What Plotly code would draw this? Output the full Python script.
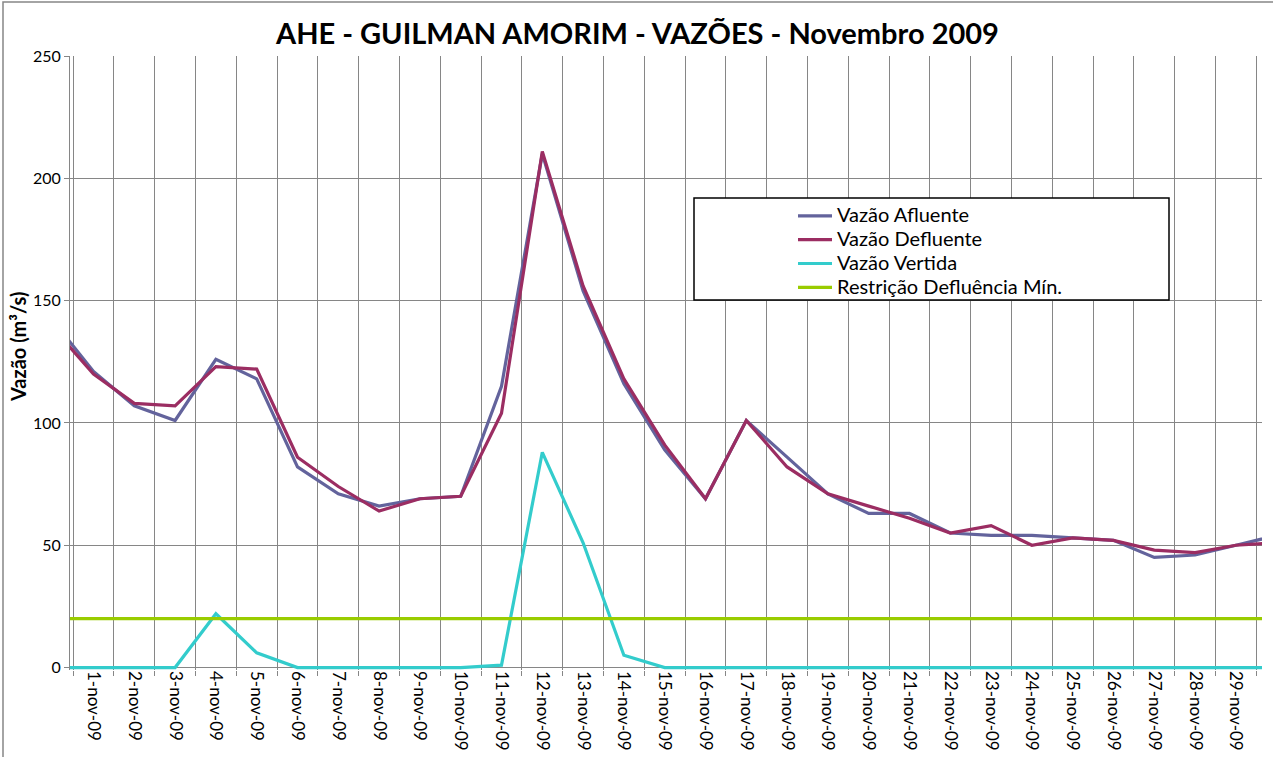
import plotly.graph_objects as go

# Categories (first and last are partially visible points at the clipped edges)
datas = ["31-out-09"] + [f"{d}-nov-09" for d in range(1, 31)]

vazao_afluente = [142, 121, 107, 101, 126, 118, 82, 71, 66, 69, 70, 115, 210, 154, 116,
                  89, 69, 101, 86, 71, 63, 63, 55, 54, 54, 53, 52, 45, 46, 50, 54]
vazao_defluente = [139, 120, 108, 107, 123, 122, 86, 74, 64, 69, 70, 104, 211, 156, 118,
                   91, 69, 101, 82, 71, 66, 61, 55, 58, 50, 53, 52, 48, 47, 50, 51]
vazao_vertida = [0, 0, 0, 0, 22, 6, 0, 0, 0, 0, 0, 1, 88, 51, 5,
                 0, 0, 0, 0, 0, 0, 0, 0, 0, 0, 0, 0, 0, 0, 0, 0]
restricao_min = [20] * len(datas)

series_names = ["Vazão Afluente", "Vazão Defluente", "Vazão Vertida",
                "Restrição Defluência Mín."]

FONT = "Lato"
GRID = "#868686"
colors = ["#63639c", "#9b2d62", "#33cccc", "#99cc00"]

fig = go.Figure()
for name, vals, color in zip(series_names,
                             [vazao_afluente, vazao_defluente, vazao_vertida, restricao_min],
                             colors):
    fig.add_trace(go.Scatter(
        x=datas, y=vals, mode="lines",
        name=f'<span style="font-size:20px">{name}</span>',
        line=dict(color=color, width=3.2)))

W, H = 1273, 757
L, R, T, B = 70, 11, 56, 87
pw, ph = W - L - R, H - T - B

def px(x):
    return (x - L) / pw

def py(y):
    return (H - B - y) / ph

fig.update_layout(
    width=W, height=H, autosize=False,
    margin=dict(l=L, r=R, t=T, b=B, pad=0, autoexpand=False),
    paper_bgcolor="white", plot_bgcolor="white",
    font=dict(family=FONT, color="black"),
    showlegend=True,
    legend=dict(x=px(793), y=py(199), xanchor="left", yanchor="top",
                bgcolor="rgba(0,0,0,0)", borderwidth=0,
                font=dict(family=FONT, size=16, color="black"),
                tracegroupgap=0, itemwidth=34),
    xaxis=dict(type="category", range=[0.424, 29.64], tickson="boundaries",
               automargin=False,
               showgrid=True, gridcolor=GRID, gridwidth=1,
               ticks="outside", ticklen=5, tickcolor=GRID,
               tickangle=90, tickfont=dict(family=FONT, size=17, color="black"),
               showline=False, zeroline=False),
    yaxis=dict(range=[-1, 250], tickvals=[0, 50, 100, 150, 200, 250],
               automargin=False,
               showgrid=True, gridcolor=GRID, gridwidth=1,
               zeroline=True, zerolinecolor=GRID, zerolinewidth=1,
               showline=True, linecolor=GRID, linewidth=1,
               ticks="outside", ticklen=5, tickcolor=GRID,
               tickfont=dict(family=FONT, size=16, color="black")),
    shapes=[
        dict(type="rect", xref="paper", yref="paper",
             x0=px(694), x1=px(1169), y0=py(300), y1=py(198),
             line=dict(color="black", width=1.5), fillcolor="white", layer="above"),
        dict(type="rect", xref="paper", yref="paper",
             x0=px(3), x1=px(1300), y0=py(800), y1=py(2),
             line=dict(color=GRID, width=1.5), fillcolor="rgba(0,0,0,0)", layer="above"),
    ],
    annotations=[
        dict(text="<b>AHE - GUILMAN AMORIM - VAZÕES - Novembro 2009</b>",
             xref="paper", yref="paper", x=px(637), y=py(33),
             xanchor="center", yanchor="middle", showarrow=False,
             font=dict(family=FONT, size=29, color="black")),
        dict(text="<b>Vazão (m³/s)</b>", xref="paper", yref="paper",
             x=px(18), y=py(347), xanchor="center", yanchor="middle",
             textangle=-90, showarrow=False,
             font=dict(family=FONT, size=20, color="black")),
    ],
)

fig.write_html("out.html", config={"displayModeBar": False},
               post_script="document.body.style.margin='0';document.body.style.overflow='hidden';")
